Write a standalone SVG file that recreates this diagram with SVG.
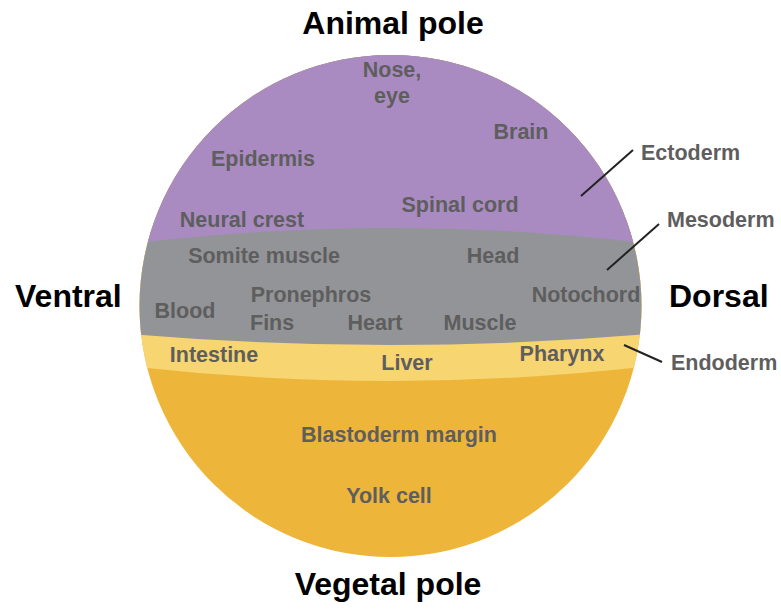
<svg xmlns="http://www.w3.org/2000/svg" width="781" height="611" viewBox="0 0 781 611">
<style>
.t{font-family:"Liberation Sans",Arial,sans-serif;font-weight:bold;font-size:21.5px;fill:#5e5e5e;text-anchor:middle}
.lab{font-family:"Liberation Sans",Arial,sans-serif;font-weight:bold;font-size:21.5px;fill:#5e5e5e}
.big{font-family:"Liberation Sans",Arial,sans-serif;font-weight:bold;font-size:32px;fill:#000}
.ln{stroke:#222;stroke-width:2;fill:none}
</style>
<defs>
<clipPath id="c"><circle cx="390.5" cy="306" r="251"/></clipPath>
</defs>
<rect width="781" height="611" fill="#fff"/>
<g id="embryo" clip-path="url(#c)">
<rect x="130" y="50" width="520" height="520" fill="#eeb53b"/>
<path d="M120 50 H660 V365 Q390 397 120 365 Z" fill="#f7d570"/>
<path d="M120 50 H660 V333 Q390 357 120 333 Z" fill="#939497"/>
<path d="M120 50 H660 V245 Q390 211 120 245 Z" fill="#a98bc1"/>
</g>
<g id="titles">
<text class="big" x="393" y="34" text-anchor="middle">Animal pole</text>
<text class="big" x="388" y="595" text-anchor="middle">Vegetal pole</text>
<text class="big" x="15" y="307">Ventral</text>
<text class="big" x="669" y="307">Dorsal</text>
</g>
<g id="ectoderm-labels">
<text class="t" x="392" y="77">Nose,</text>
<text class="t" x="392" y="103">eye</text>
<text class="t" x="521" y="139">Brain</text>
<text class="t" x="263" y="166">Epidermis</text>
<text class="t" x="460" y="212">Spinal cord</text>
<text class="t" x="242" y="227">Neural crest</text>
</g>
<g id="mesoderm-labels">
<text class="t" x="264" y="263">Somite muscle</text>
<text class="t" x="493" y="263">Head</text>
<text class="t" x="586" y="302">Notochord</text>
<text class="t" x="185" y="318">Blood</text>
<text class="t" x="311" y="302">Pronephros</text>
<text class="lab" x="250" y="330">Fins</text>
<text class="t" x="375" y="330">Heart</text>
<text class="t" x="480" y="330">Muscle</text>
</g>
<g id="endoderm-labels">
<text class="t" x="214" y="362">Intestine</text>
<text class="t" x="407" y="370">Liver</text>
<text class="t" x="562" y="361">Pharynx</text>
</g>
<g id="yolk-labels">
<text class="t" x="399" y="442">Blastoderm margin</text>
<text class="t" x="389" y="503">Yolk cell</text>
</g>
<g id="connectors">
<line class="ln" x1="581" y1="196" x2="633" y2="150"/>
<line class="ln" x1="607" y1="270" x2="659" y2="224"/>
<line class="ln" x1="624" y1="345" x2="662" y2="362"/>
</g>
<g id="layer-labels">
<text class="lab" x="641" y="160">Ectoderm</text>
<text class="lab" x="667" y="227">Mesoderm</text>
<text class="lab" x="671" y="370">Endoderm</text>
</g>
</svg>
